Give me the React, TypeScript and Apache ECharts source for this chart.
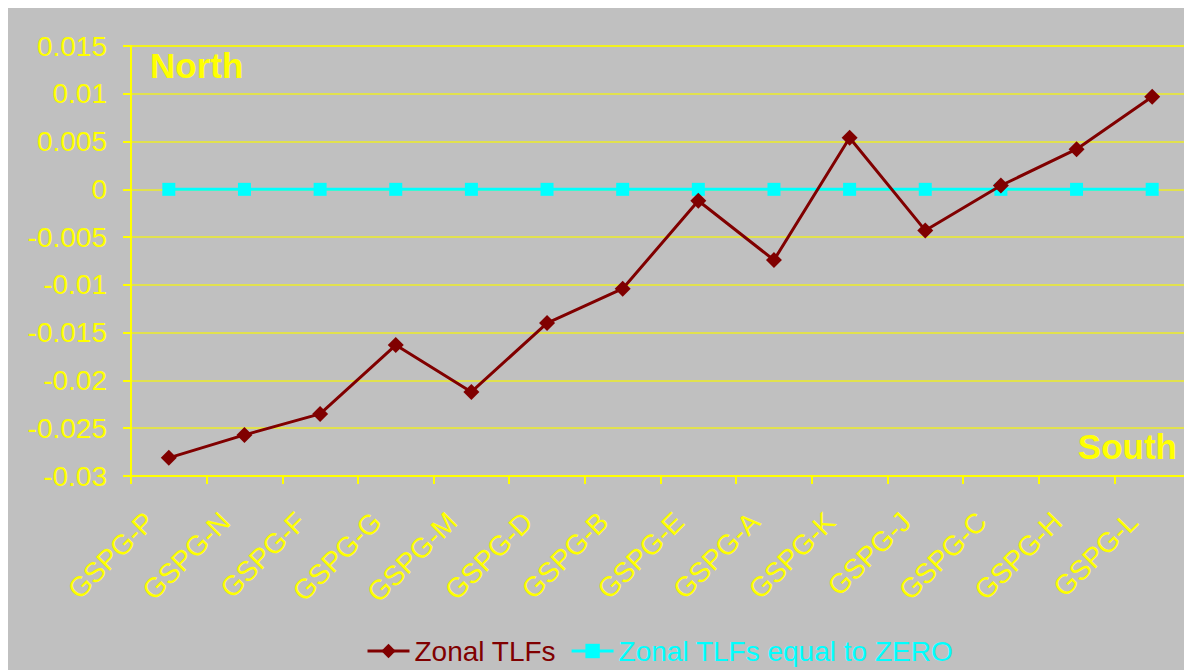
import React, { useEffect, useRef } from "react";
import * as echarts from "echarts";

const categories = [
  "GSPG-P", "GSPG-N", "GSPG-F", "GSPG-G", "GSPG-M", "GSPG-D", "GSPG-B",
  "GSPG-E", "GSPG-A", "GSPG-K", "GSPG-J", "GSPG-C", "GSPG-H", "GSPG-L",
];
const zonalTLFs = [
  -0.0281, -0.0257, -0.0235, -0.0163, -0.0212, -0.0140, -0.0104,
  -0.0012, -0.0074, 0.0054, -0.0043, 0.0004, 0.0042, 0.0097,
];
const zeroLine = [0, 0, 0, 0, 0, 0, 0, 0, 0, 0, 0, 0, 0, 0];
const seriesNames = ["Zonal TLFs", "Zonal TLFs equal to ZERO"];

const FONT = "'Liberation Sans', Arial, sans-serif";
const YELLOW = "#ffff00";
const GRIDY = "#ecec28";
const RED = "#800000";
const CYAN = "#00ffff";

export default function App() {
  const ref = useRef<HTMLDivElement>(null);
  useEffect(() => {
    if (!ref.current) return;
    const chart = echarts.init(ref.current, undefined, { renderer: "svg" });
    chart.setOption({
      animation: false,
      backgroundColor: "#c0c0c0",
      textStyle: { fontFamily: FONT },
      grid: {
        left: 123, right: 2, top: 38, bottom: 194,
        show: true, borderColor: YELLOW, borderWidth: 2,
        backgroundColor: "transparent",
      },
      legend: {
        left: 353, top: 624,
        itemWidth: 42, itemHeight: 18, itemGap: 14,
        lineStyle: { width: 3 },
        data: [
          { name: seriesNames[0], textStyle: { color: RED } },
          { name: seriesNames[1], textStyle: { color: CYAN } },
        ],
        textStyle: { fontSize: 28, fontFamily: FONT },
      },
      xAxis: {
        type: "category",
        data: categories,
        boundaryGap: true,
        axisLine: { onZero: false, lineStyle: { color: YELLOW, width: 2 } },
        axisTick: { show: true, length: 8, lineStyle: { color: YELLOW, width: 2 } },
        axisLabel: {
          color: YELLOW, fontSize: 28, fontFamily: FONT, rotate: 45,
          margin: 22, interval: 0, padding: [0, 27, 0, 0],
        },
        splitLine: { show: false },
      },
      yAxis: {
        type: "value",
        min: -0.03, max: 0.015, interval: 0.005,
        axisLine: { show: true, lineStyle: { color: YELLOW, width: 2 } },
        axisTick: { show: true, length: 8, lineStyle: { color: YELLOW, width: 2 } },
        axisLabel: { color: YELLOW, fontSize: 28, fontFamily: FONT, margin: 24 },
        splitLine: { show: true, lineStyle: { color: GRIDY, width: 1.5 } },
      },
      series: [
        {
          name: seriesNames[0], type: "line", data: zonalTLFs,
          symbol: "diamond", symbolSize: 16,
          lineStyle: { color: RED, width: 3 },
          itemStyle: { color: RED },
          z: 3,
        },
        {
          name: seriesNames[1], type: "line", data: zeroLine,
          symbol: "rect", symbolSize: 13,
          lineStyle: { color: CYAN, width: 3 },
          itemStyle: { color: CYAN },
          z: 2,
        },
      ],
      graphic: [
        {
          type: "text", left: 142, top: 40,
          style: { text: "North", fill: YELLOW, font: `bold 35px ${FONT}` },
        },
        {
          type: "text", right: 15, top: 421,
          style: { text: "South", fill: YELLOW, font: `bold 35px ${FONT}` },
        },
      ],
    });
    return () => chart.dispose();
  }, []);
  return <div ref={ref} style={{ width: 1184, height: 662 }} />;
}
